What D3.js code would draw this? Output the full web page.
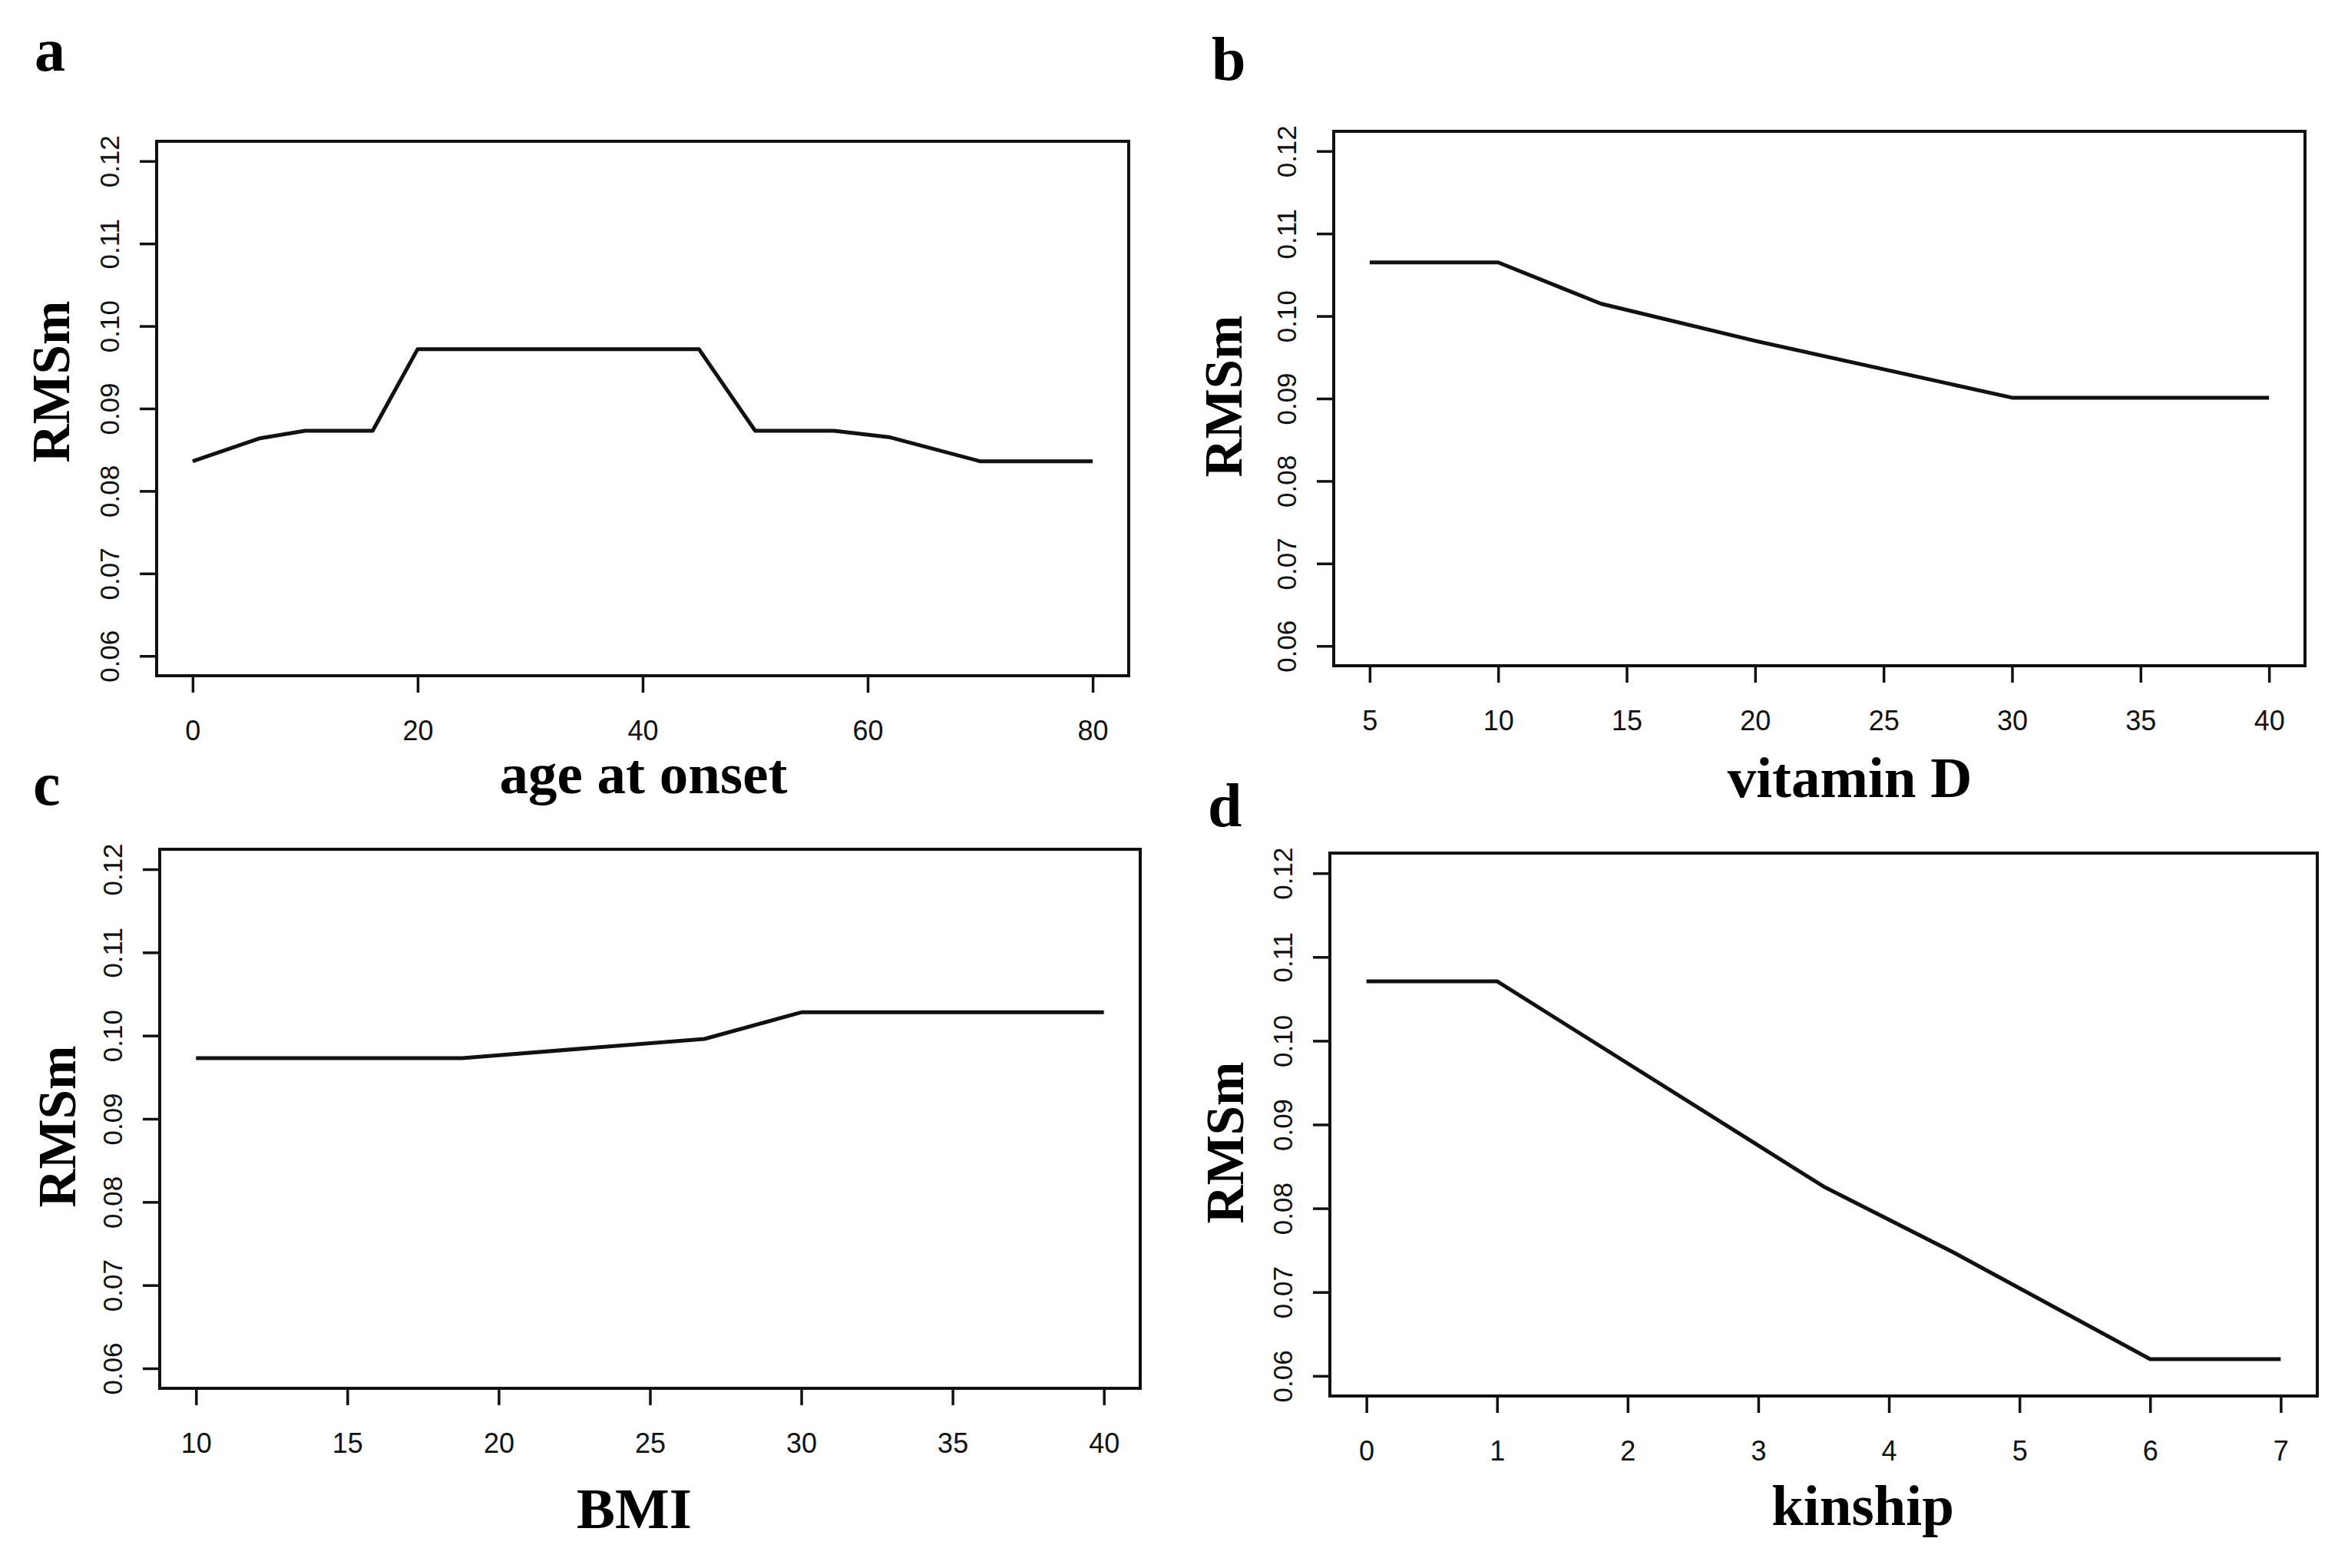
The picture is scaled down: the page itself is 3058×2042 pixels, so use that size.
<!DOCTYPE html>
<html>
<head>
<meta charset="utf-8">
<script src="https://cdn.jsdelivr.net/npm/d3@7"></script>
<style>
  body { margin: 0; background: #fff; }
  .tick text { font-family: 'Liberation Sans', Arial, sans-serif; fill: #111; }
  .title { font-family: 'Liberation Serif', 'Times New Roman', serif; font-weight: bold; fill: #000; }
</style>
</head>
<body>
<script>
// values
const ageX = [0, 6, 10, 16, 20, 45, 50, 57, 62, 70, 80];
const ageY = [0.0836, 0.0864, 0.0873, 0.0873, 0.0972, 0.0972, 0.0873, 0.0873, 0.0865, 0.0836, 0.0836];
const ageTicks = [0, 20, 40, 60, 80];

const vitX = [5, 10, 14, 20, 30, 40];
const vitY = [0.1065, 0.1065, 0.1015, 0.0970, 0.0901, 0.0901];
const vitTicks = [5, 10, 15, 20, 25, 30, 35, 40];

const bmiX = [10, 18.8, 26.8, 30, 40];
const bmiY = [0.0973, 0.0973, 0.0996, 0.1028, 0.1028];
const bmiTicks = [10, 15, 20, 25, 30, 35, 40];

const kinX = [0, 1, 3.5, 4.5, 6, 7];
const kinY = [0.1071, 0.1071, 0.0826, 0.0747, 0.0620, 0.0620];
const kinTicks = [0, 1, 2, 3, 4, 5, 6, 7];

const yTicks = [0.06, 0.07, 0.08, 0.09, 0.10, 0.11, 0.12];
const yLim = [0.06, 0.12];

const svgWidth = 3058;
const svgHeight = 2042;

const svg = d3.select('body').append('svg')
    .attr('width', svgWidth)
    .attr('height', svgHeight);

svg.append('rect').attr('width', svgWidth).attr('height', svgHeight).attr('fill', '#fff');

// R style: axis limits padded by 4% on each side
function pad(lim) {
    let d = (lim[1] - lim[0]) * 0.04;
    return [lim[0] - d, lim[1] + d];
}

const panels = [
    { letter: 'a', xs: ageX, ys: ageY, ticks: ageTicks, xlim: [0, 80], label: 'age at onset',
      box: [204, 184, 1470, 880], letterPos: [45, 92], titleX: 838, titleDy: 153, ylabPos: [90, 497] },
    { letter: 'b', xs: vitX, ys: vitY, ticks: vitTicks, xlim: [5, 40], label: 'vitamin D',
      box: [1737, 171, 3002, 867], letterPos: [1578, 104], titleX: 2409, titleDy: 171, ylabPos: [1617, 516] },
    { letter: 'c', xs: bmiX, ys: bmiY, ticks: bmiTicks, xlim: [10, 40], label: 'BMI',
      box: [208, 1106, 1485, 1808], letterPos: [43, 1048], titleX: 826, titleDy: 182, ylabPos: [98, 1467] },
    { letter: 'd', xs: kinX, ys: kinY, ticks: kinTicks, xlim: [0, 7], label: 'kinship',
      box: [1732, 1111, 3018, 1818], letterPos: [1573, 1076], titleX: 2426, titleDy: 168, ylabPos: [1619, 1488] }
];

panels.forEach(p => {
    let [x0, y0, x1, y1] = p.box;
    let x = d3.scaleLinear().domain(pad(p.xlim)).range([x0, x1]);
    let y = d3.scaleLinear().domain(pad(yLim)).range([y1, y0]);

    // x axis
    let gx = svg.append('g')
        .attr('transform', 'translate(0,' + y1 + ')')
        .call(d3.axisBottom(x).tickValues(p.ticks).tickSize(22).tickFormat(d3.format('d')));
    gx.select('.domain').remove();
    gx.selectAll('.tick line').attr('stroke', '#111').attr('stroke-width', 3.5);
    gx.selectAll('.tick text')
        .attr('y', 84)
        .attr('dy', 0)
        .style('font-size', '36px');

    // y axis, labels turned sideways like base R
    let gy = svg.append('g')
        .attr('transform', 'translate(' + x0 + ',0)')
        .call(d3.axisLeft(y).tickValues(yTicks).tickSize(22).tickFormat(d3.format('.2f')));
    gy.select('.domain').remove();
    gy.selectAll('.tick line').attr('stroke', '#111').attr('stroke-width', 3.5);
    gy.selectAll('.tick text')
        .attr('x', 0)
        .attr('dy', 0)
        .attr('text-anchor', 'middle')
        .attr('transform', 'translate(-49,0) rotate(-90)')
        .style('font-size', '35px');

    // frame
    svg.append('rect')
        .attr('x', x0).attr('y', y0)
        .attr('width', x1 - x0).attr('height', y1 - y0)
        .attr('fill', 'none')
        .attr('stroke', '#111')
        .attr('stroke-width', 4);

    let line = d3.line()
        .x((d, i) => x(p.xs[i]))
        .y(d => y(d));

    svg.append('path')
        .datum(p.ys)
        .attr('d', line)
        .attr('fill', 'none')
        .attr('stroke', '#111')
        .attr('stroke-width', 5)
        .attr('stroke-linejoin', 'round');

    svg.append('text')
        .attr('class', 'title')
        .attr('x', p.titleX)
        .attr('y', y1 + p.titleDy)
        .attr('text-anchor', 'middle')
        .style('font-size', '75px')
        .text(p.label);

    svg.append('text')
        .attr('class', 'title')
        .attr('transform', 'translate(' + p.ylabPos[0] + ',' + p.ylabPos[1] + ') rotate(-90)')
        .attr('text-anchor', 'middle')
        .style('font-size', '69px')
        .text('RMSm');

    svg.append('text')
        .attr('class', 'title')
        .attr('x', p.letterPos[0])
        .attr('y', p.letterPos[1])
        .style('font-size', '80px')
        .text(p.letter);
});
</script>
</body>
</html>
